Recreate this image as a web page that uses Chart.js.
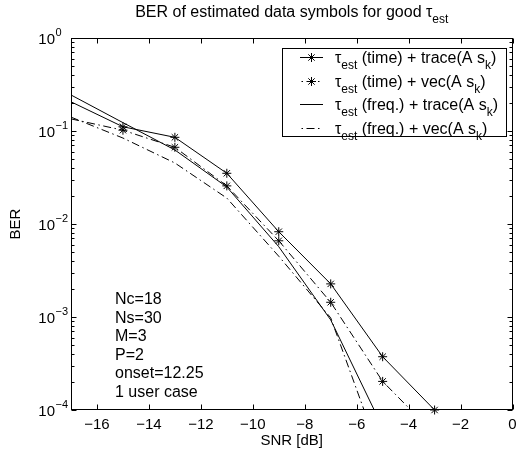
<!DOCTYPE html>
<html>
<head>
<meta charset="utf-8">
<script src="https://cdn.jsdelivr.net/npm/chart.js@4"></script>
<style>
  html, body { margin: 0; padding: 0; background: #fff; }
</style>
</head>
<body>
<canvas id="ber" width="518" height="454"></canvas>
<script>
// SNR grid (dB) and BER values
const snr = [-17, -15, -13, -11, -9, -7, -5, -3];
const berTimeTrace = [0.206, 0.111, 0.0855, 0.0351, 0.00826, 0.00227, 0.000374, 0.0001];
const berTimeVec   = [0.135, 0.102, 0.0668, 0.0257, 0.0066, 0.00144, 0.000203, 0.000055];
const berFreqTrace = [0.244, 0.123, 0.0625, 0.025, 0.0057, 0.00093, 0.000065];
const berFreqVec   = [0.141, 0.084, 0.0453, 0.019, 0.0045, 0.00098, 0.000028];

const xTicks = [-16, -14, -12, -10, -8, -6, -4, -2, 0];
const yDecades = [0, -1, -2, -3, -4];
const infoLines = ['Nc=18', 'Ns=30', 'M=3', 'P=2', 'onset=12.25', '1 user case'];
const legendNames = ['(time) + trace(A s', '(time) + vec(A s', '(freq.) + trace(A s', '(freq.) + vec(A s'];

const X_MIN = -17, X_MAX = 0;
const FONT = '"Liberation Sans", Arial, Helvetica, sans-serif';
const DASHDOT = [8, 3.5, 1.5, 3.5];

function pts(ys) {
    return ys.map((y, i) => ({ x: snr[i], y: y }));
}

// no marker on the point that sits on the left axis limit
const markerRadius = c => (c.raw && c.raw.x <= X_MIN ? 0 : 4.5);

// draws text with subscript pieces, returns end x
function drawRich(ctx, parts, x, y, size, subSize) {
    parts.forEach(p => {
        if (p.sub) {
            ctx.font = subSize + 'px ' + FONT;
            ctx.fillText(p.t, x, y + 6);
        } else {
            ctx.font = size + 'px ' + FONT;
            ctx.fillText(p.t, x, y);
        }
        x += ctx.measureText(p.t).width;
    });
    return x;
}

function richWidth(ctx, parts, size, subSize) {
    let w = 0;
    parts.forEach(p => {
        ctx.font = (p.sub ? subSize : size) + 'px ' + FONT;
        w += ctx.measureText(p.t).width;
    });
    return w;
}

const matlabAxes = {
    id: 'matlabAxes',
    afterDatasetsDraw(chart) {
        const ctx = chart.ctx;
        const a = chart.chartArea;
        const xs = chart.scales.x, ys = chart.scales.y;
        const L = Math.round(a.left) + 0.5, R = Math.round(a.right) - 0.5;
        const T = Math.round(a.top) + 0.5, B = Math.round(a.bottom) - 0.5;

        ctx.save();
        ctx.strokeStyle = '#000';
        ctx.lineWidth = 1;
        ctx.setLineDash([]);
        ctx.strokeRect(L, T, R - L, B - T);

        ctx.beginPath();
        xTicks.forEach(v => {
            const px = Math.round(xs.getPixelForValue(v)) + 0.5;
            ctx.moveTo(px, B); ctx.lineTo(px, B - 5);
            ctx.moveTo(px, T); ctx.lineTo(px, T + 5);
        });
        yDecades.forEach(d => {
            const py = Math.round(ys.getPixelForValue(Math.pow(10, d))) + 0.5;
            ctx.moveTo(L, py); ctx.lineTo(L + 5, py);
            ctx.moveTo(R, py); ctx.lineTo(R - 5, py);
            if (d < 0) {
                for (let m = 2; m <= 9; m++) {
                    const pm = Math.round(ys.getPixelForValue(m * Math.pow(10, d))) + 0.5;
                    ctx.moveTo(L, pm); ctx.lineTo(L + 3, pm);
                    ctx.moveTo(R, pm); ctx.lineTo(R - 3, pm);
                }
            }
        });
        ctx.stroke();

        ctx.fillStyle = '#000';
        ctx.textBaseline = 'alphabetic';

        // x tick labels
        ctx.font = '15px ' + FONT;
        ctx.textAlign = 'center';
        xTicks.forEach(v => {
            const px = xs.getPixelForValue(v);
            ctx.fillText(v < 0 ? '\u2212' + Math.abs(v) : String(v), px, a.bottom + 19);
        });

        // y tick labels 10^d
        yDecades.forEach(d => {
            const py = ys.getPixelForValue(Math.pow(10, d));
            ctx.font = '15px ' + FONT;
            ctx.textAlign = 'right';
            ctx.fillText('10', 55, py + 6);
            ctx.font = '11px ' + FONT;
            ctx.textAlign = 'left';
            ctx.fillText(d === 0 ? '0' : '\u2212' + (-d), 55.5, py - 2);
        });

        // axis labels
        ctx.font = '15px ' + FONT;
        ctx.textAlign = 'center';
        ctx.fillText('SNR [dB]', (a.left + a.right) / 2, 445);
        ctx.save();
        ctx.translate(20, (a.top + a.bottom) / 2);
        ctx.rotate(-Math.PI / 2);
        ctx.fillText('BER', 0, 0);
        ctx.restore();

        // title
        ctx.textAlign = 'left';
        const titleParts = [{ t: 'BER of estimated data symbols for good \u03c4' }, { t: 'est', sub: true }];
        const tw = richWidth(ctx, titleParts, 16, 12);
        drawRich(ctx, titleParts, (a.left + a.right) / 2 - tw / 2, 17, 16, 12);

        // parameter text
        ctx.font = '16px ' + FONT;
        infoLines.forEach((s, i) => ctx.fillText(s, 115, 304 + i * 18.6));

        // legend
        const bx = 282.5, by = 48.5, bw = 224, bh = 88;
        ctx.fillStyle = '#fff';
        ctx.fillRect(bx, by, bw, bh);
        ctx.strokeRect(bx, by, bw, bh);
        ctx.fillStyle = '#000';
        chart.data.datasets.forEach((ds, i) => {
            const yc = Math.round(57 + i * 23.7) + 0.5;
            ctx.setLineDash(ds.borderDash || []);
            ctx.lineDashOffset = ds.borderDash ? 10 : 0;
            ctx.beginPath();
            ctx.moveTo(300, yc); ctx.lineTo(323, yc);
            ctx.stroke();
            ctx.setLineDash([]);
            if (ds.pointStyle === 'star') {
                Chart.helpers.drawPoint(ctx, { pointStyle: 'star', radius: 4.5, rotation: 0, borderWidth: 1 }, 311.5, yc);
            }
            drawRich(ctx, [
                { t: '\u03c4' }, { t: 'est', sub: true },
                { t: ' ' + legendNames[i] }, { t: 'k', sub: true }, { t: ')' }
            ], 335, yc + 5, 16, 12);
        });
        ctx.restore();
    }
};

const lineBase = {
    borderColor: '#000',
    borderWidth: 1,
    pointBorderColor: '#000',
    pointBackgroundColor: '#000',
    pointBorderWidth: 1,
    fill: false,
    tension: 0
};

new Chart(document.getElementById('ber').getContext('2d'), {
    type: 'line',
    data: {
        datasets: [
            Object.assign({}, lineBase, {
                label: 'time + trace', data: pts(berTimeTrace),
                pointStyle: 'star', pointRadius: markerRadius,
                clip: { left: 0, top: 0, right: 0, bottom: 6 }
            }),
            Object.assign({}, lineBase, {
                label: 'time + vec', data: pts(berTimeVec), borderDash: DASHDOT,
                pointStyle: 'star', pointRadius: markerRadius, clip: 0
            }),
            Object.assign({}, lineBase, {
                label: 'freq + trace', data: pts(berFreqTrace), pointRadius: 0, clip: 0
            }),
            Object.assign({}, lineBase, {
                label: 'freq + vec', data: pts(berFreqVec), borderDash: DASHDOT,
                pointRadius: 0, clip: 0
            })
        ]
    },
    options: {
        responsive: false,
        animation: false,
        layout: { padding: { left: 71, right: 4, top: 38, bottom: 44 } },
        plugins: {
            legend: { display: false },
            tooltip: { enabled: false },
            title: { display: false }
        },
        scales: {
            x: { type: 'linear', min: X_MIN, max: X_MAX, display: false },
            y: { type: 'logarithmic', min: 1e-4, max: 1, display: false }
        }
    },
    plugins: [matlabAxes]
});
</script>
</body>
</html>
